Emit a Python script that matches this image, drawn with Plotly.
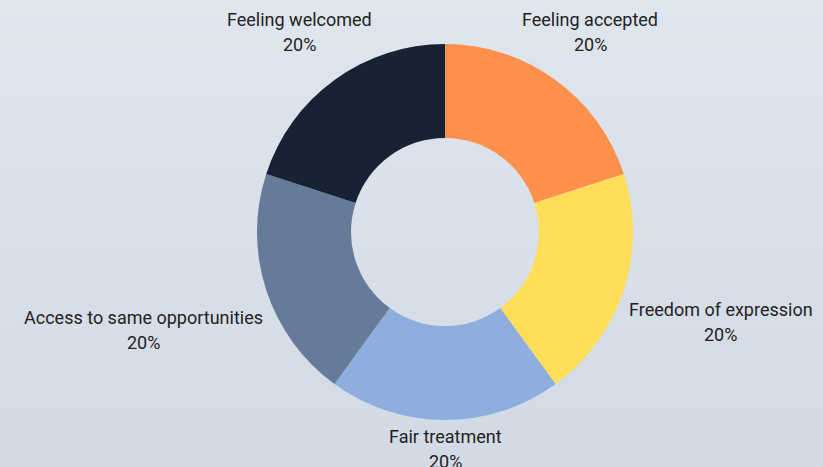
import math
import plotly.graph_objects as go

labels = ["Feeling accepted", "Freedom of expression", "Fair treatment",
          "Access to same opportunities", "Feeling welcomed"]
values = [20, 20, 20, 20, 20]
colors = ["#FF914D", "#FFDE59", "#8EAEDE", "#667B99", "#172335"]

# layout parameters (pixels)
W, H = 823, 467
cx, cy, r = 445, 232, 188
label_distance = [247, 290, 217, 317, 247]   # radial distance of each label centre
line_gap = 12.5
font = dict(family="Roboto", size=18, color="#222222")

fig = go.Figure(go.Pie(
    labels=labels, values=values, sort=False, direction="clockwise", rotation=0,
    hole=0.5, marker=dict(colors=colors, line=dict(width=0)),
    textinfo="none",
    domain=dict(x=[(cx - r) / W, (cx + r) / W], y=[(H - cy - r) / H, (H - cy + r) / H]),
    showlegend=False, hoverinfo="label+percent",
))

# outside labels at each slice's mid-angle
total = sum(values)
cum = 0
annotations = []
for lab, v, d in zip(labels, values, label_distance):
    mid = (cum + v / 2) / total * 2 * math.pi
    cum += v
    px = cx + d * math.sin(mid)
    py = cy - d * math.cos(mid)
    pct = "%d%%" % round(100 * v / total)
    for txt, shift in ((lab, line_gap), (pct, -line_gap)):
        annotations.append(dict(x=px / W, y=1 - py / H, xref="paper", yref="paper",
                                text=txt, showarrow=False, xanchor="center", yanchor="middle",
                                yshift=shift, font=font))

# vertical background gradient
top = (224, 230, 238)
bot = (210, 218, 230)
n = 48
shapes = []
for i in range(n):
    t = i / (n - 1)
    c = tuple(round(top[k] + (bot[k] - top[k]) * t) for k in range(3))
    shapes.append(dict(type="rect", xref="paper", yref="paper", x0=0, x1=1,
                       y0=1 - (i + 1) / n, y1=1 - i / n + 0.001,
                       fillcolor="rgb(%d,%d,%d)" % c, line=dict(width=0), layer="below"))

fig.update_layout(width=W, height=H, margin=dict(l=0, r=0, t=0, b=0),
                  paper_bgcolor="#dae1ea", plot_bgcolor="rgba(0,0,0,0)",
                  shapes=shapes, annotations=annotations)
fig.write_html("out.html", config={"displayModeBar": False},
               post_script="document.body.style.margin='0';")
